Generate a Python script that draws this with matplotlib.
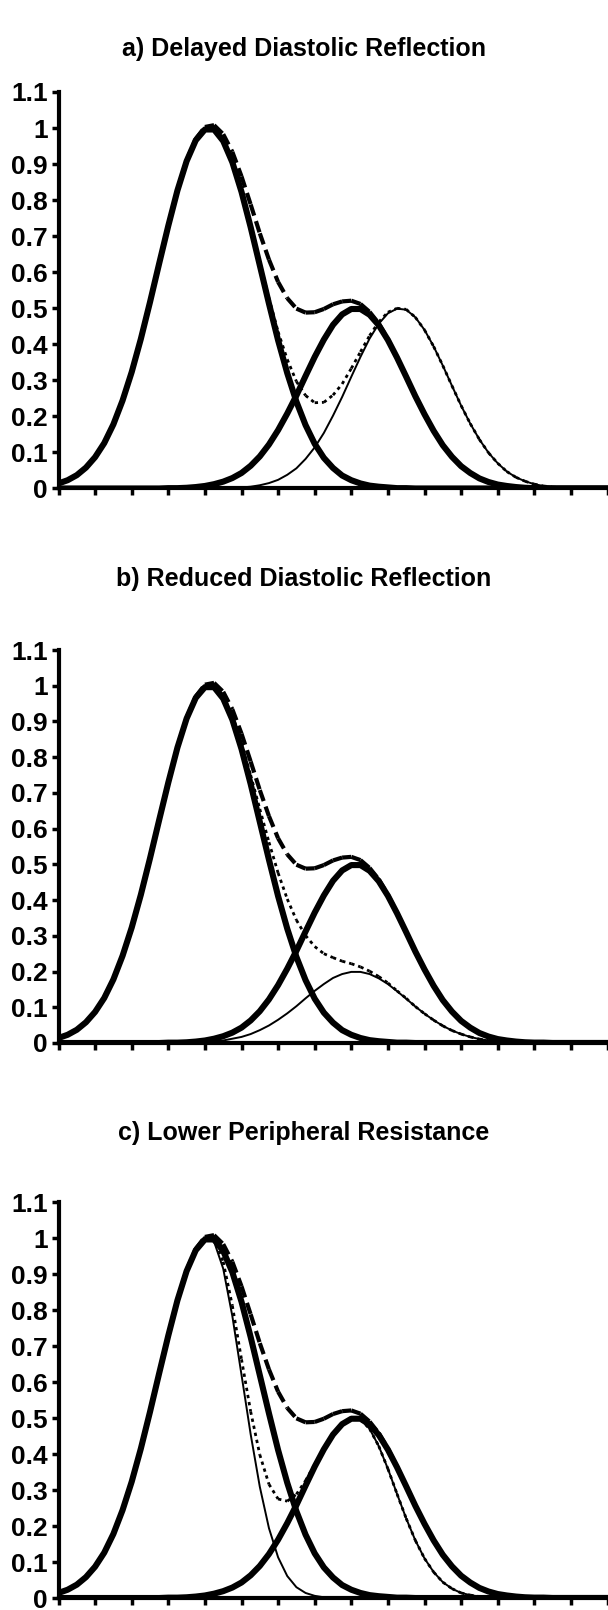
import matplotlib.pyplot as plt
import numpy as np
from matplotlib.collections import LineCollection

plt.rcParams['font.family'] = ['Liberation Sans', 'DejaVu Sans']

# sample positions along the x axis (step 0.25)
x_vals = np.linspace(0, 15, 61)

# forward (systolic) wave
fwd_wave = np.array([
    0.014, 0.023, 0.037, 0.058, 0.087, 0.126, 0.178, 0.244, 0.323, 0.415,
    0.517, 0.624, 0.729, 0.827, 0.908, 0.966, 0.996, 0.996, 0.964, 0.905,
    0.823, 0.725, 0.619, 0.513, 0.411, 0.320, 0.241, 0.176, 0.124, 0.085,
    0.057, 0.036, 0.023, 0.014, 0.008, 0.005, 0.003, 0.001, 0.001, 0.0,
    0, 0, 0, 0, 0, 0, 0, 0, 0, 0,
    0, 0, 0, 0, 0, 0, 0, 0, 0, 0, 0])

# normal reflected wave
refl_wave = np.array([
    0, 0, 0, 0, 0, 0, 0, 0, 0, 0,
    0, 0, 0.001, 0.001, 0.002, 0.004, 0.007, 0.012, 0.019, 0.029,
    0.043, 0.063, 0.089, 0.122, 0.162, 0.208, 0.258, 0.312, 0.365, 0.413,
    0.454, 0.483, 0.498, 0.498, 0.482, 0.453, 0.412, 0.363, 0.310, 0.256,
    0.206, 0.160, 0.120, 0.088, 0.062, 0.043, 0.028, 0.018, 0.011, 0.007,
    0.004, 0.002, 0.001, 0.001, 0, 0, 0, 0, 0, 0, 0])

# a) delayed reflection
delayed_refl = np.array([
    0, 0, 0, 0, 0, 0, 0, 0, 0, 0,
    0, 0, 0, 0, 0, 0, 0, 0, 0.001, 0.002,
    0.003, 0.005, 0.009, 0.015, 0.024, 0.038, 0.056, 0.082, 0.114, 0.154,
    0.202, 0.254, 0.310, 0.365, 0.416, 0.457, 0.486, 0.499, 0.496, 0.475,
    0.440, 0.394, 0.341, 0.285, 0.230, 0.180, 0.136, 0.099, 0.070, 0.047,
    0.031, 0.020, 0.012, 0.007, 0.004, 0.002, 0.001, 0.001, 0, 0, 0])

# b) reduced reflection
reduced_refl = np.array([
    0, 0, 0, 0, 0, 0, 0, 0, 0, 0,
    0, 0, 0, 0, 0.001, 0.002, 0.003, 0.005, 0.007, 0.012,
    0.017, 0.025, 0.036, 0.049, 0.065, 0.083, 0.103, 0.125, 0.146, 0.165,
    0.182, 0.193, 0.199, 0.199, 0.193, 0.181, 0.165, 0.145, 0.124, 0.102,
    0.082, 0.064, 0.048, 0.035, 0.025, 0.017, 0.011, 0.007, 0.004, 0.003,
    0.002, 0.001, 0, 0, 0, 0, 0, 0, 0, 0, 0])

# c) lower peripheral resistance: faster decay of both waves
fast_fwd = np.array([
    0.014, 0.023, 0.037, 0.058, 0.087, 0.126, 0.178, 0.244, 0.323, 0.415,
    0.517, 0.624, 0.729, 0.827, 0.908, 0.966, 0.996, 0.990, 0.915, 0.783,
    0.620, 0.455, 0.309, 0.194, 0.113, 0.061, 0.030, 0.014, 0.006, 0.002,
    0.001, 0, 0, 0, 0, 0, 0, 0, 0, 0,
    0, 0, 0, 0, 0, 0, 0, 0, 0, 0,
    0, 0, 0, 0, 0, 0, 0, 0, 0, 0, 0])

fast_refl = np.array([
    0, 0, 0, 0, 0, 0, 0, 0, 0, 0,
    0, 0, 0.001, 0.001, 0.002, 0.004, 0.007, 0.012, 0.019, 0.029,
    0.043, 0.063, 0.089, 0.122, 0.162, 0.208, 0.258, 0.312, 0.365, 0.413,
    0.454, 0.483, 0.498, 0.496, 0.470, 0.422, 0.359, 0.289, 0.221, 0.160,
    0.110, 0.072, 0.044, 0.026, 0.014, 0.008, 0.004, 0.002, 0.001, 0,
    0, 0, 0, 0, 0, 0, 0, 0, 0, 0, 0])

panel_titles = ['a) Delayed Diastolic Reflection',
                'b) Reduced Diastolic Reflection',
                'c) Lower Peripheral Resistance']
y_ticks = [0, 0.1, 0.2, 0.3, 0.4, 0.5, 0.6, 0.7, 0.8, 0.9, 1.0, 1.1]
y_ticklabels = ['0', '0.1', '0.2', '0.3', '0.4', '0.5', '0.6', '0.7', '0.8', '0.9', '1', '1.1']
x_ticks = np.arange(0, 16)

# thin (altered) curves for each panel
thin_sets = [[delayed_refl], [reduced_refl], [fast_fwd, fast_refl]]
dotted_sums = [fwd_wave + delayed_refl, fwd_wave + reduced_refl, fast_fwd + fast_refl]
dashed_sum = fwd_wave + refl_wave


def seg_line(ax, y, lw, dash):
    # one path per segment so the dash pattern restarts at every data point
    pts = np.column_stack([x_vals, y])
    segs = np.stack([pts[:-1], pts[1:]], axis=1)
    lc = LineCollection(segs, colors='black', linewidths=lw, linestyles=[dash])
    ax.add_collection(lc)


W, H = 608, 1610
fig = plt.figure(figsize=(W / 100, H / 100), dpi=100)

# axes boxes in pixels: (y of zero line, y of 1.1 line), title centre y
ax_px = [(488.5, 92), (1043, 650), (1598, 1202)]
title_y = [49, 579, 1133]
left_px, right_px = 58.5, 607.5

for i in range(3):
    y0, y1 = ax_px[i]
    ax = fig.add_axes([left_px / W, (H - y0) / H, (right_px - left_px) / W, (y0 - y1) / H])

    seg_line(ax, dashed_sum, 3.0, (0, (2.8, 1.4)))
    seg_line(ax, dotted_sums[i], 2.0, (0, (1.2, 1.4)))
    for thin in thin_sets[i]:
        ax.plot(x_vals, thin, color='black', lw=1.4)
    ax.plot(x_vals, fwd_wave, color='black', lw=4.4)
    ax.plot(x_vals, refl_wave, color='black', lw=4.4)

    ax.set_xlim(0, 15)
    ax.set_ylim(0, 1.1)

    for spine_loc, spine in ax.spines.items():
        if spine_loc in ['right', 'top']:
            spine.set_visible(False)
        else:
            spine.set_linewidth(3)

    ax.set_xticks(x_ticks)
    ax.set_xticklabels([])
    ax.set_yticks(y_ticks)
    ax.set_yticklabels(y_ticklabels, fontsize=19, fontweight='bold')
    ax.tick_params(axis='both', direction='out', length=5, width=2.5, pad=2.5)

    fig.text(0.5, 1 - title_y[i] / H, panel_titles[i], ha='center', va='center',
             fontsize=18, fontweight='bold')

fig.savefig('out.png', dpi=100)
